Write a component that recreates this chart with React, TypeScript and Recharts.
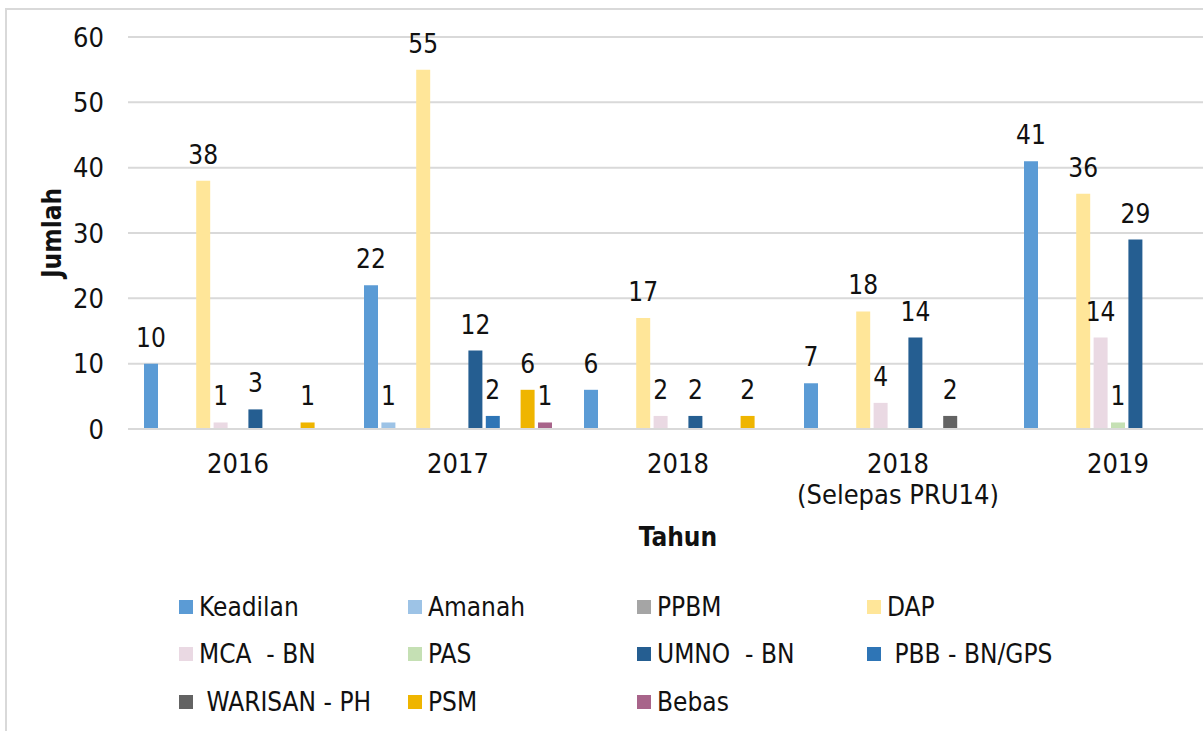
import React from 'react';
import { BarChart, Bar, XAxis, YAxis, CartesianGrid, LabelList, Label } from 'recharts';

const categories = ['2016', '2017', '2018', '2018\n(Selepas PRU14)', '2019'];

const keadilan = [10, 22, 6, 7, 41];
const amanah = [null, 1, null, null, null];
const ppbm = [null, null, null, null, null];
const dap = [38, 55, 17, 18, 36];
const mca = [1, null, 2, 4, 14];
const pas = [null, null, null, null, 1];
const umno = [3, 12, 2, 14, 29];
const pbb = [null, 2, null, null, null];
const warisan = [null, null, null, 2, null];
const psm = [1, 6, 2, null, null];
const bebas = [null, 1, null, null, null];

const yTicks = [0, 10, 20, 30, 40, 50, 60];

const series = [
  { key: 'keadilan', name: 'Keadilan', values: keadilan, color: '#5B9BD5' },
  { key: 'amanah', name: 'Amanah', values: amanah, color: '#9DC3E6' },
  { key: 'ppbm', name: 'PPBM', values: ppbm, color: '#A5A5A5' },
  { key: 'dap', name: 'DAP', values: dap, color: '#FFE699' },
  { key: 'mca', name: 'MCA  - BN', values: mca, color: '#EAD9E3' },
  { key: 'pas', name: 'PAS', values: pas, color: '#C5E0B4' },
  { key: 'umno', name: 'UMNO  - BN', values: umno, color: '#255E91' },
  { key: 'pbb', name: '\u00a0PBB - BN/GPS', values: pbb, color: '#2E75B6' },
  { key: 'warisan', name: '\u00a0WARISAN - PH', values: warisan, color: '#636363' },
  { key: 'psm', name: 'PSM', values: psm, color: '#EFB500' },
  { key: 'bebas', name: 'Bebas', values: bebas, color: '#A8648A' },
];

const data = categories.map((c, i) => {
  const row: Record<string, any> = { name: c };
  series.forEach((s) => {
    row[s.key] = s.values[i];
  });
  return row;
});

const FONT = "'DejaVu Sans Condensed', 'DejaVu Sans', Tahoma, sans-serif";

const XTick = (props: any) => {
  const { x, y, payload } = props;
  const lines = String(payload.value).split('\n');
  return (
    <text x={x} y={y} textAnchor="middle" fontFamily={FONT} fontSize={27} fill="#111">
      {lines.map((l, i) => (
        <tspan key={i} x={x} dy={i === 0 ? 19 : 31}>
          {l}
        </tspan>
      ))}
    </text>
  );
};

const ValueLabel = (props: any) => {
  const { x, y, width, value } = props;
  if (value === null || value === undefined) return null;
  return (
    <text x={x + width / 2} y={y - 17} textAnchor="middle" fontFamily={FONT} fontSize={26} fill="#111">
      {value}
    </text>
  );
};

export default function App() {
  return (
    <div
      style={{
        position: 'absolute',
        left: 5,
        top: 8,
        width: 1198,
        height: 723,
        overflow: 'hidden',
        background: '#fff',
      }}
    >
      <div
        style={{
          position: 'absolute',
          left: 0,
          top: 0,
          width: 1300,
          height: 800,
          borderLeft: '2px solid #d9d9d9',
          borderTop: '2px solid #d9d9d9',
        }}
      />
      <div style={{ position: 'absolute', left: 0, top: 0 }}>
        <BarChart
          width={1260}
          height={560}
          data={data}
          margin={{ top: 29, right: 37, bottom: 49, left: 63 }}
          barSize={14}
          barGap={3.4}
        >
          <CartesianGrid vertical={false} stroke="#d9d9d9" strokeWidth={2} />
          <XAxis
            dataKey="name"
            height={90}
            axisLine={{ stroke: '#d9d9d9', strokeWidth: 2 }}
            tickLine={false}
            tickSize={6}
            tickMargin={19}
            tick={<XTick />}
            interval={0}
          >
            <Label
              content={(p: any) => {
                const vb = p.viewBox;
                return (
                  <text
                    x={vb.x + vb.width / 2}
                    y={vb.y + 117}
                    textAnchor="middle"
                    fontFamily={FONT}
                    fontWeight="bold"
                    fontSize={26}
                    fill="#111"
                  >
                    Tahun
                  </text>
                );
              }}
            />
          </XAxis>
          <YAxis
            width={60}
            domain={[0, 60]}
            ticks={yTicks}
            axisLine={false}
            tickLine={false}
            tickSize={6}
            tickMargin={18}
            tick={{ fontFamily: FONT, fontSize: 27, fill: '#111' }}
          >
            <Label
              content={(p: any) => {
                const vb = p.viewBox;
                const cx = vb.x - 16;
                const cy = vb.y + vb.height / 2;
                return (
                  <text
                    x={cx}
                    y={cy}
                    transform={`rotate(-90 ${cx} ${cy})`}
                    textAnchor="middle"
                    dominantBaseline="central"
                    fontFamily={FONT}
                    fontWeight="bold"
                    fontSize={26}
                    fill="#111"
                  >
                    Jumlah
                  </text>
                );
              }}
            />
          </YAxis>
          {series.map((s) => (
            <Bar key={s.key} dataKey={s.key} name={s.name} fill={s.color} isAnimationActive={false}>
              <LabelList dataKey={s.key} content={<ValueLabel />} />
            </Bar>
          ))}
        </BarChart>
      </div>
      <div
        style={{
          position: 'absolute',
          left: 174,
          top: 575,
          width: 920,
          display: 'grid',
          gridTemplateColumns: '229px 229px 230px 230px',
          rowGap: 0,
          fontFamily: FONT,
          fontSize: 26,
          color: '#111',
        }}
      >
        {series.map((s) => (
          <div key={s.key} style={{ display: 'flex', alignItems: 'center', height: 47.5, whiteSpace: 'pre' }}>
            <span style={{ display: 'inline-block', width: 14, height: 14, background: s.color, marginRight: 6 }} />
            <span>{s.name}</span>
          </div>
        ))}
      </div>
    </div>
  );
}
